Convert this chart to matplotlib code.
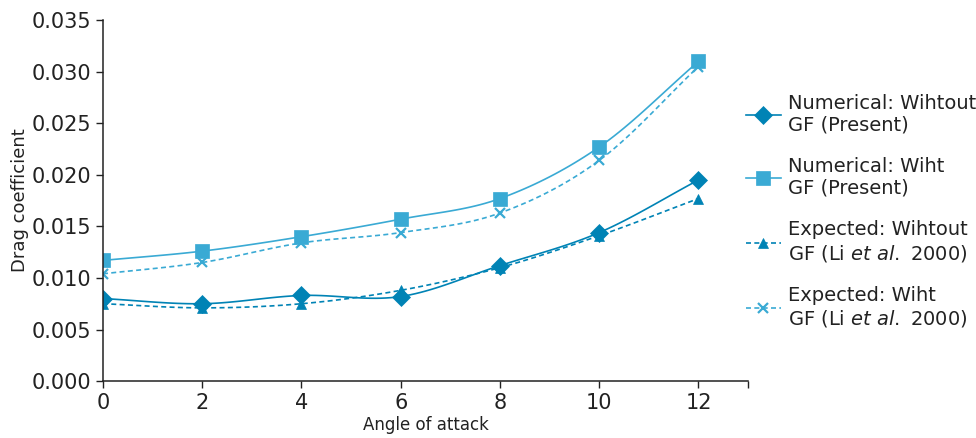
import numpy as np
import matplotlib
matplotlib.use("Agg")
import matplotlib.pyplot as plt

# Drag coefficient versus angle of attack
angles = [0, 2, 4, 6, 8, 10, 12]
num_without_gf = [0.0080, 0.0075, 0.0083, 0.0082, 0.0112, 0.0144, 0.0195]
num_with_gf = [0.0117, 0.0126, 0.0140, 0.0157, 0.0177, 0.0227, 0.0310]
exp_without_gf = [0.0075, 0.0071, 0.0075, 0.0088, 0.0110, 0.0141, 0.0177]
exp_with_gf = [0.0104, 0.0115, 0.0134, 0.0144, 0.0163, 0.0214, 0.0305]

labels = [
    "Numerical: Wihtout\nGF (Present)",
    "Numerical: Wiht\nGF (Present)",
    "Expected: Wihtout\nGF (Li $\\it{et\\ al.}$ 2000)",
    "Expected: Wiht\nGF (Li $\\it{et\\ al.}$ 2000)",
]

dark = "#0083B5"
light = "#3AAAD4"


def smooth(x, y, n=20):
    """Catmull-Rom curve through the points for a smoothed line."""
    x = np.asarray(x, float)
    y = np.asarray(y, float)
    px = np.concatenate([[2 * x[0] - x[1]], x, [2 * x[-1] - x[-2]]])
    py = np.concatenate([[2 * y[0] - y[1]], y, [2 * y[-1] - y[-2]]])
    xs, ys = [], []
    t = np.linspace(0, 1, n, endpoint=False)
    for i in range(1, len(px) - 2):
        for p, out in ((px, xs), (py, ys)):
            p0, p1, p2, p3 = p[i - 1], p[i], p[i + 1], p[i + 2]
            out.extend(0.5 * (2 * p1 + (-p0 + p2) * t
                              + (2 * p0 - 5 * p1 + 4 * p2 - p3) * t ** 2
                              + (-p0 + 3 * p1 - 3 * p2 + p3) * t ** 3))
    xs.append(x[-1])
    ys.append(y[-1])
    return np.array(xs), np.array(ys)


plt.rcParams["font.family"] = ["DejaVu Sans"]
plt.rcParams["mathtext.fontset"] = "dejavusans"

fig = plt.figure(figsize=(9.76, 4.38), dpi=100)
ax = fig.add_axes([0.1055, 0.130, 0.661, 0.824])

series = [
    (num_without_gf, dark, "-", "D", 9.5, 0),
    (num_with_gf, light, "-", "s", 9.5, 0),
    (exp_without_gf, dark, "--", "^", 7, 0),
    (exp_with_gf, light, "--", "x", 7, 1.6),
]

handles = []
for (vals, col, ls, mk, ms, mew), lab in zip(series, labels):
    sx, sy = smooth(angles, vals)
    ax.plot(sx, sy, color=col, ls=ls, lw=1.2, dashes=(3, 2) if ls == "--" else (None, None))
    ax.plot(angles, vals, ls="none", marker=mk, ms=ms, color=col,
            markeredgewidth=mew if mew else 0.5)
    h, = ax.plot([], [], color=col, ls=ls, lw=1.2, marker=mk, ms=ms,
                 markeredgewidth=mew if mew else 0.5, label=lab)
    if ls == "--":
        h.set_dashes((3, 2))
    handles.append(h)

ax.set_xlim(0, 13)
ax.set_ylim(0, 0.035)
ax.set_xticks([0, 2, 4, 6, 8, 10, 12, 13])
ax.set_xticklabels(["0", "2", "4", "6", "8", "10", "12", ""])
ax.set_yticks(np.arange(0, 0.0351, 0.005))
ax.set_yticklabels([f"{v:.3f}" for v in np.arange(0, 0.0351, 0.005)])
ax.tick_params(labelsize=15, length=5, width=1, direction="out", colors="#222222")
for s in ("top", "right"):
    ax.spines[s].set_visible(False)
for s in ("left", "bottom"):
    ax.spines[s].set_linewidth(1.1)
    ax.spines[s].set_color("#222222")
ax.spines["bottom"].set_bounds(0, 13)

ax.set_xlabel("Angle of attack", fontsize=12, color="#222222", labelpad=2)
ax.set_ylabel("Drag coefficient", fontsize=13, color="#222222", labelpad=2)

ax.legend(handles=handles, loc="center left", bbox_to_anchor=(0.9845, 0.47),
          frameon=False, fontsize=14, handlelength=1.8, handletextpad=0.36,
          labelspacing=1.15, borderaxespad=0.0, labelcolor="#222222")

fig.savefig("out.png", dpi=100)
